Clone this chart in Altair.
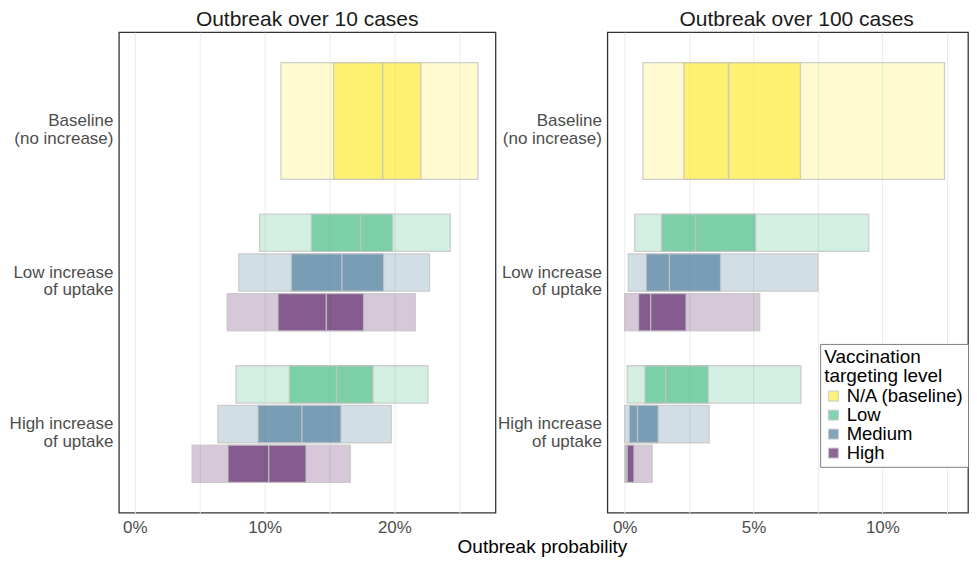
import altair as alt
import pandas as pd

# ---------------- data ----------------
scenarios = ["Baseline\n(no increase)", "Low increase\nof uptake", "High increase\nof uptake"]
levels = ["N/A (baseline)", "Low", "Medium", "High"]
level_colors = ["#FDE725", "#35B779", "#31688E", "#440154"]

row_scenario = [0, 1, 1, 1, 2, 2, 2]
row_level = [0, 1, 2, 3, 1, 2, 3]

# Outbreak over 10 cases (percent)
p10_lo95 = [11.26, 9.62, 8.01, 7.11, 7.80, 6.39, 4.41]
p10_lo50 = [15.32, 13.60, 12.06, 11.03, 11.91, 9.49, 7.18]
p10_med = [19.09, 17.40, 15.96, 14.76, 15.55, 12.88, 10.32]
p10_hi50 = [22.04, 19.86, 19.17, 17.63, 18.35, 15.88, 13.19]
p10_hi95 = [26.43, 24.30, 22.71, 21.61, 22.58, 19.76, 16.60]

# Outbreak over 100 cases (percent)
p100_lo95 = [0.71, 0.39, 0.14, 0.00, 0.10, 0.00, 0.00]
p100_lo50 = [2.30, 1.43, 0.84, 0.54, 0.79, 0.18, 0.05]
p100_med = [4.03, 2.76, 1.74, 1.01, 1.60, 0.50, 0.10]
p100_hi50 = [6.82, 5.08, 3.72, 2.38, 3.24, 1.30, 0.36]
p100_hi95 = [12.41, 9.47, 7.50, 5.24, 6.84, 3.28, 1.07]

panel_titles = ["Outbreak over 10 cases", "Outbreak over 100 cases"]
x_title = "Outbreak probability"
legend_title = ["Vaccination", "targeting level"]


def build(lo95, lo50, med, hi50, hi95):
    rows = []
    for i in range(len(row_scenario)):
        s = scenarios[row_scenario[i]]
        l = levels[row_level[i]]
        rows.append(dict(scenario=s, level=l, part="outer", start=lo95[i] / 100, end=hi95[i] / 100))
        rows.append(dict(scenario=s, level=l, part="inner", start=lo50[i] / 100, end=med[i] / 100))
        rows.append(dict(scenario=s, level=l, part="inner", start=med[i] / 100, end=hi50[i] / 100))
    return pd.DataFrame(rows)


df10 = build(p10_lo95, p10_lo50, p10_med, p10_hi50, p10_hi95)
df100 = build(p100_lo95, p100_lo50, p100_med, p100_hi50, p100_hi95)

FONT = "Liberation Sans"


def panel(df, title, domain, values, keep, fmt, width, title_dx):
    x = alt.X("start:Q",
              scale=alt.Scale(domain=domain, nice=False, zero=False),
              axis=alt.Axis(values=values, format=fmt, title=None, ticks=False, domain=False,
                            labelExpr="indexof(%s, datum.label) >= 0 ? datum.label : ''" % str(keep),
                            labelFontSize=17, labelColor="#4D4D4D", labelPadding=7,
                            gridColor="#EBEBEB", labelFont=FONT))
    y = alt.Y("scenario:N", sort=scenarios,
              scale=alt.Scale(domain=scenarios, paddingInner=0.23, paddingOuter=0.2),
              axis=alt.Axis(title=None, ticks=False, domain=False, bandPosition=0.5,
                            labelExpr="split(datum.label, '\\n')", labelFontSize=17,
                            labelLineHeight=18, labelColor="#4D4D4D", labelPadding=6,
                            gridColor="#EBEBEB", labelFont=FONT))
    color = alt.Color("level:N", scale=alt.Scale(domain=levels, range=level_colors),
                      legend=alt.Legend(title=legend_title))
    base = alt.Chart(df)
    is_base = alt.datum.level == levels[0]
    not_base = alt.datum.level != levels[0]
    stroke = dict(stroke="#c4c4c4", strokeWidth=1.3, strokeOpacity=0.8)
    b_outer = base.mark_rect(fillOpacity=0.22, **stroke).encode(
        x=x, x2="end:Q", y=y, color=color).transform_filter(is_base & (alt.datum.part == "outer"))
    b_inner = base.mark_rect(fillOpacity=0.55, **stroke).encode(
        x=x, x2="end:Q", y=y, color=color).transform_filter(is_base & (alt.datum.part == "inner"))
    yo = alt.YOffset("level:N", sort=levels[1:],
                     scale=alt.Scale(domain=levels[1:], paddingInner=0.06))
    g_outer = base.mark_rect(fillOpacity=0.22, **stroke).encode(
        x=x, x2="end:Q", y=y, yOffset=yo, color=color).transform_filter(not_base & (alt.datum.part == "outer"))
    g_inner = base.mark_rect(fillOpacity=0.55, **stroke).encode(
        x=x, x2="end:Q", y=y, yOffset=yo, color=color).transform_filter(not_base & (alt.datum.part == "inner"))
    return alt.layer(b_outer, b_inner, g_outer, g_inner).properties(
        width=width, height=481,
        title=alt.TitleParams(title, fontSize=21, fontWeight="normal", color="#1A1A1A",
                              font=FONT, offset=2, anchor="middle", dx=title_dx))


p1 = panel(df10, panel_titles[0], [-0.0123, 0.2779],
           [0, 0.05, 0.10, 0.15, 0.20, 0.25], ["0%", "10%", "20%"], ".0%", 377, 0)
p2 = panel(df100, panel_titles[1], [-0.0067, 0.1332],
           [0, 0.025, 0.05, 0.075, 0.10, 0.125], ["0%", "5%", "10%"], ".1~%", 361, 9)

chart = alt.hconcat(p1, p2, spacing=0).properties(
    padding={"left": 0, "top": 0, "right": 0, "bottom": 0},
    title=alt.TitleParams(x_title, orient="bottom", anchor="middle", fontSize=19,
                          fontWeight="normal", color="#000000", font=FONT, dx=54, offset=2),
).configure_view(
    stroke="#333333", strokeWidth=1.3
).configure_legend(
    orient="none", legendX=702, legendY=312,
    titleFontSize=19, titleFontWeight="normal", titleColor="#000000", titleFont=FONT,
    labelFontSize=18.5, labelColor="#000000", labelFont=FONT,
    symbolType="square", symbolSize=100, symbolOpacity=0.6,
    symbolStrokeColor="#aaaaaa", symbolStrokeWidth=1,
    strokeColor="#7f7f7f", fillColor="#ffffff", padding=4, rowPadding=0,
    titlePadding=1, titleLineHeight=19, labelOffset=4,
)

chart.save("out.html", embed_options={"renderer": "svg", "actions": False})
